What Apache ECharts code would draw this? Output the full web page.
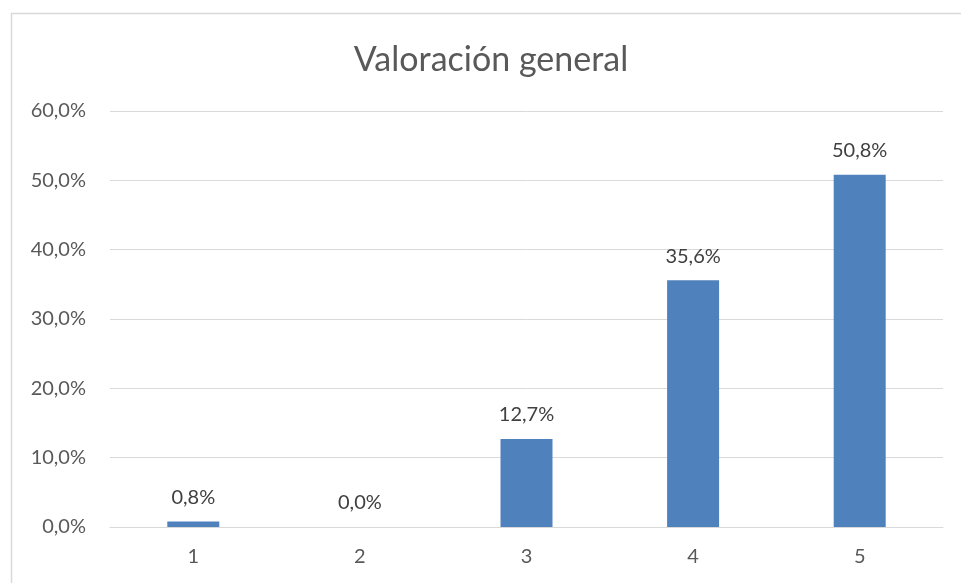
<!DOCTYPE html>
<html><head><meta charset="utf-8">
<script src="https://cdn.jsdelivr.net/npm/echarts@6/dist/echarts.min.js"></script>
<style>html,body{margin:0;padding:0;background:#fff}#c{width:961px;height:583px}</style>
</head><body><div id="c"></div>
<script>
const categories = ['1','2','3','4','5'];
const values = [0.8, 0.0, 12.7, 35.6, 50.8];
const titleText = 'Valoración general';
const fmt = v => v.toFixed(1).replace('.', ',') + '%';
const chart = echarts.init(document.getElementById('c'));
const font = 'Lato, "Open Sans", sans-serif';
chart.setOption({
  animation: false,
  graphic: [{type:'rect', shape:{x:11.5,y:13.5,width:1000,height:1000}, style:{fill:'none', stroke:'#d9d9d9', lineWidth:1.5}, silent:true}],
  title: {text: titleText, left: 486, textAlign: 'center', top: 38,
    textStyle: {fontFamily: font, fontSize: 34, fontWeight: 'normal', color: '#595959'}},
  grid: {left: 110, right: 18, top: 111, bottom: 56, containLabel: false},
  xAxis: {type: 'category', data: categories,
    axisLine: {lineStyle: {color: '#d9d9d9'}}, axisTick: {show: false},
    axisLabel: {color: '#595959', fontFamily: font, fontSize: 20, margin: 20}},
  yAxis: {type: 'value', min: 0, max: 60, interval: 10,
    axisLine: {show: false}, axisTick: {show: false},
    splitLine: {lineStyle: {color: '#d9d9d9'}},
    axisLabel: {color: '#595959', fontFamily: font, fontSize: 20, margin: 24, formatter: fmt}},
  series: [{type: 'bar', data: values, barWidth: 52,
    itemStyle: {color: '#4f81bd'},
    label: {show: true, position: 'top', distance: 14, color: '#404040', fontFamily: font, fontSize: 20,
      formatter: p => fmt(p.value)}}]
});
</script></body></html>
